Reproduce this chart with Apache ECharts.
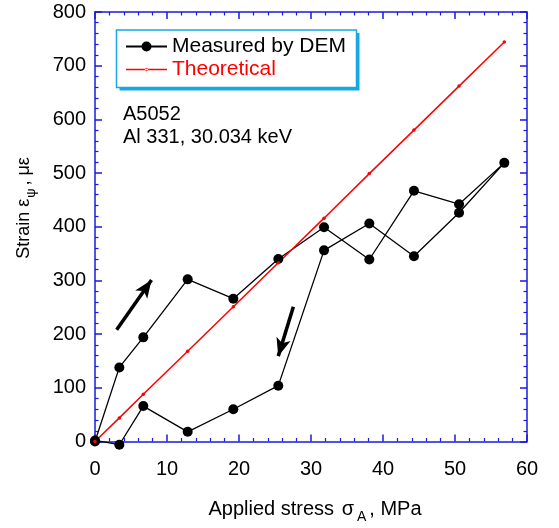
<!DOCTYPE html>
<html>
<head>
<meta charset="utf-8">
<script src="https://cdn.jsdelivr.net/npm/echarts@6/dist/echarts.min.js"></script>
<style>html,body{margin:0;padding:0;background:#fff;}#c{width:559px;height:528px;}</style>
</head>
<body>
<div id="c"></div>
<script>
// Applied stress (MPa) at each measurement step
const stressSteps = [0, 3.38, 6.71, 12.87, 19.21, 25.46, 31.81, 38.1, 44.3, 50.56, 56.85];
// Measured strain (με) during loading, in order of increasing stress
const loadingStrain = [0, 138, 194, 302, 266, 340, 399, 339, 467, 442, 519];
// Measured strain (με) during unloading, in order of decreasing stress (from 56.85 down to 0)
const unloadingStrain = [519, 426, 345, 406, 356, 104, 60, 18, 66, -6, 2];
// Theoretical strain (με) at each stress step
const theoreticalStrain = [0, 44, 88, 168, 251, 333, 416, 499, 580, 662, 744];
// Axis ticks
const xTicks = [0, 10, 20, 30, 40, 50, 60];
const yTicks = [0, 100, 200, 300, 400, 500, 600, 700, 800];
// Direction arrows [startX, startY, endX, endY] in data units
const loadArrow = [3.01, 208, 7.85, 301];
const unloadArrow = [27.55, 251, 25.45, 159];

const FONT = '"Liberation Sans", Arial, Helvetica, sans-serif';
const BLUE = '#1a1ae0';
const CYAN = '#16a8e4';

const reversedStress = stressSteps.slice().reverse();
const measured = loadingStrain.map((v, i) => [stressSteps[i], v])
  .concat(unloadingStrain.slice(1).map((v, i) => [reversedStress[i + 1], v]));
const theoretical = theoreticalStrain.map((v, i) => [stressSteps[i], v]);

function axisCommon(showLabel) {
  return {
    axisLine: { onZero: false, lineStyle: { color: BLUE, width: 1.5 } },
    axisTick: { inside: true, length: 7, lineStyle: { color: BLUE, width: 1.5 } },
    minorTick: { show: true, splitNumber: 5, length: 3.5, lineStyle: { color: BLUE, width: 1.2 } },
    splitLine: { show: false },
    minorSplitLine: { show: false },
    axisLabel: { show: showLabel, fontSize: 20, color: '#000', fontFamily: FONT }
  };
}

const xMin = xTicks[0], xMax = xTicks[xTicks.length - 1], xInt = xTicks[1] - xTicks[0];
const yMin = yTicks[0], yMax = yTicks[yTicks.length - 1], yInt = yTicks[1] - yTicks[0];

const chart = echarts.init(document.getElementById('c'), null, { renderer: 'canvas' });
const xa = (pos, show) => Object.assign({ type: 'value', min: xMin, max: xMax, interval: xInt, position: pos }, axisCommon(show));
const ya = (pos, show) => Object.assign({ type: 'value', min: yMin, max: yMax, interval: yInt, position: pos }, axisCommon(show));
const xBottom = xa('bottom', true); xBottom.axisLabel.margin = 18;
const yLeft = ya('left', true); yLeft.axisLabel.margin = 9;

const theoIcon = 'path://M0,5.25L41,5.25L41,6.75L0,6.75Z M18.8,6A1.7,1.7,0,1,0,22.2,6A1.7,1.7,0,1,0,18.8,6Z';

chart.setOption({
  animation: false,
  backgroundColor: '#fff',
  grid: { left: 95, right: 32, top: 12, bottom: 86.5, containLabel: false },
  xAxis: [xBottom, xa('top', false)],
  yAxis: [yLeft, ya('right', false)],
  legend: {
    orient: 'vertical',
    left: 117, top: 30,
    padding: [6, 8, 6, 8],
    itemGap: 2,
    itemWidth: 41,
    itemHeight: 12.5,
    symbolKeepAspect: true,
    textStyle: { fontSize: 21, fontFamily: FONT },
    data: [
      { name: 'Measured by DEM', textStyle: { color: '#000' } },
      { name: 'Theoretical', icon: theoIcon, itemStyle: { color: '#ff0000' }, textStyle: { color: '#ff0000' } }
    ]
  },
  series: [
    {
      name: 'Measured by DEM', type: 'line', xAxisIndex: 0, yAxisIndex: 0,
      data: measured, clip: false,
      symbol: 'circle', symbolSize: 10,
      itemStyle: { color: '#000' },
      lineStyle: { color: '#000', width: 1.3 },
      markLine: {
        silent: true, symbol: ['none', 'arrow'], symbolSize: [11, 18],
        label: { show: false },
        lineStyle: { color: '#000', width: 3.5, type: 'solid' },
        emphasis: { disabled: true },
        data: [
          [{ coord: [loadArrow[0], loadArrow[1]] }, { coord: [loadArrow[2], loadArrow[3]] }],
          [{ coord: [unloadArrow[0], unloadArrow[1]] }, { coord: [unloadArrow[2], unloadArrow[3]] }]
        ]
      }
    },
    {
      name: 'Theoretical', type: 'line', xAxisIndex: 0, yAxisIndex: 0,
      data: theoretical, clip: false,
      symbol: 'circle', symbolSize: 3.5,
      itemStyle: { color: '#ff0000' },
      lineStyle: { color: '#ff0000', width: 1.5 }
    }
  ],
  graphic: [
    {
      type: 'rect', z: 1, shape: { x: 119.5, y: 33, width: 240, height: 57.5 },
      style: { fill: CYAN, stroke: null }
    },
    {
      type: 'rect', z: 1, shape: { x: 116.5, y: 30, width: 240, height: 57.5 },
      style: { fill: '#fff', stroke: CYAN, lineWidth: 1.5 }
    },
    {
      type: 'text', left: 123, top: 104,
      style: { text: 'A5052', fontSize: 20, fontFamily: FONT, fill: '#000' }
    },
    {
      type: 'text', left: 123, top: 127.5,
      style: { text: 'Al 331, 30.034 keV', fontSize: 20, fontFamily: FONT, fill: '#000' }
    },
    {
      type: 'text', x: 315, y: 509,
      style: {
        text: '{a|Applied stress }{g|σ}{s|A}{a|, MPa}',
        align: 'center', verticalAlign: 'middle',
        rich: {
          a: { fontSize: 20, fontFamily: FONT, fill: '#000', lineHeight: 30, verticalAlign: 'middle' },
          g: { fontSize: 20, fontFamily: FONT, fill: '#000', lineHeight: 30, verticalAlign: 'middle', padding: [0, 2, 0, 2] },
          s: { fontSize: 14, fontFamily: FONT, fill: '#000', lineHeight: 30, verticalAlign: 'bottom', padding: [0, 3, 0, 1] }
        }
      }
    },
    {
      type: 'text', x: 24, y: 208, rotation: Math.PI / 2,
      style: {
        text: '{a|Strain ε}{s|ψ}{a|, με}',
        align: 'center', verticalAlign: 'middle',
        rich: {
          a: { fontSize: 18, fontFamily: FONT, fill: '#000', lineHeight: 28, verticalAlign: 'middle' },
          s: { fontSize: 13, fontFamily: FONT, fill: '#000', lineHeight: 28, verticalAlign: 'bottom', padding: [0, 3, 0, 1] }
        }
      }
    }
  ]
});
</script>
</body>
</html>
